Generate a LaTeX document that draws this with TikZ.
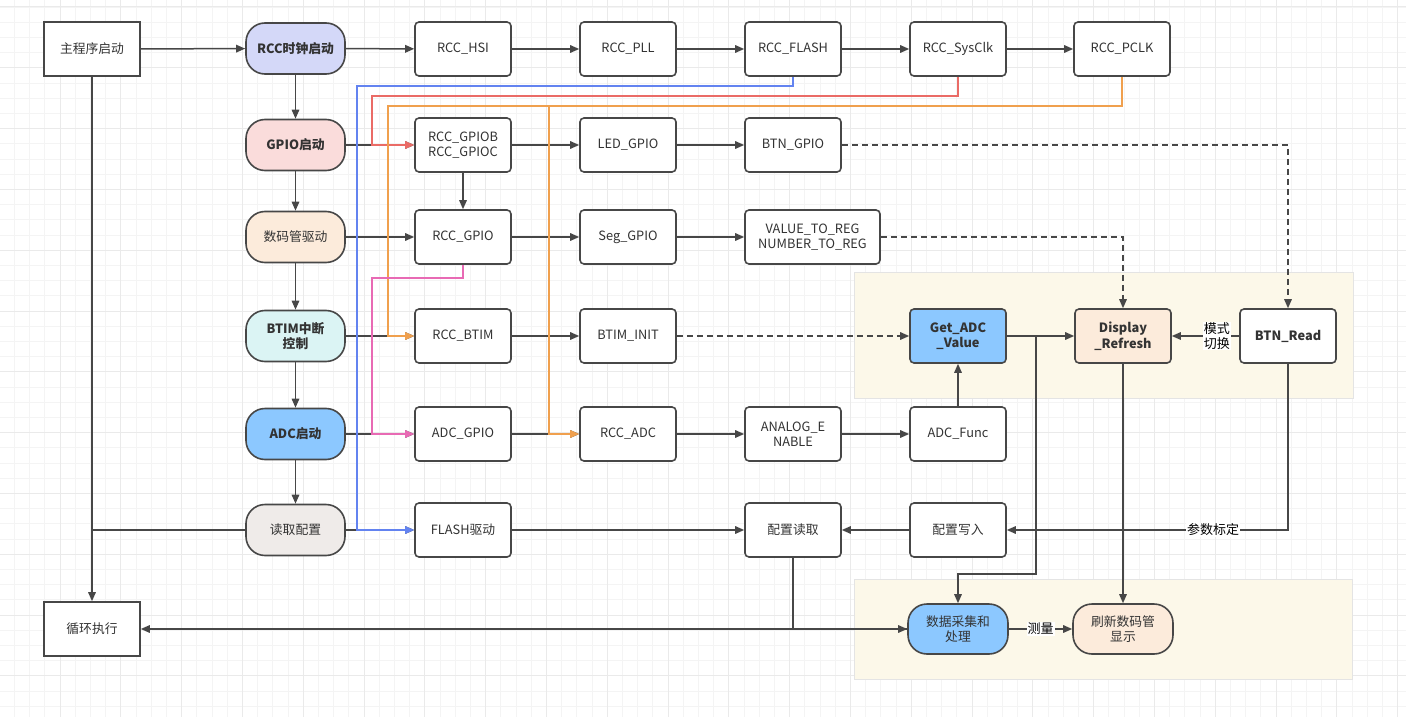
\documentclass[tikz,border=0pt]{standalone}
\usepackage{fontspec}
\setmainfont{Noto Sans CJK SC}
\usetikzlibrary{arrows.meta}
\definecolor{linec}{HTML}{474747}
\definecolor{textc}{HTML}{333333}
\definecolor{gridminor}{HTML}{F4F4F4}
\definecolor{gridmajor}{HTML}{EAEAEA}
\definecolor{panelfill}{HTML}{FCF8E9}
\definecolor{panelline}{HTML}{E4E4E4}
\definecolor{lav}{HTML}{D4D8F8}
\definecolor{rosefill}{HTML}{FADCDB}
\definecolor{peach}{HTML}{FCEBDB}
\definecolor{cyanfill}{HTML}{DBF4F4}
\definecolor{bluefill}{HTML}{8CC8FF}
\definecolor{grayfill}{HTML}{EFEBE9}
\definecolor{blueline}{HTML}{6383F0}
\definecolor{redline}{HTML}{EA6B66}
\definecolor{orangeline}{HTML}{F0A04E}
\definecolor{pinkline}{HTML}{E86AB4}
\begin{document}
\begin{tikzpicture}[x=1pt,y=-1pt,
  box/.style={draw=linec, line width=1.6pt, rounded corners=4pt, minimum width=96pt, minimum height=54pt,
    fill=white, text=textc, font=\fontsize{12.8}{15.5}\selectfont, align=center, inner sep=2pt},
  sqbox/.style={box, rounded corners=0pt},
  pill/.style={box, rounded corners=19pt, minimum width=99pt, minimum height=51pt},
  bf/.style={font=\fontsize{12.8}{15.5}\selectfont\bfseries},
  conn/.style={draw=linec, line width=1.5pt, -{Triangle[length=9pt,width=7.5pt]}},
  link/.style={draw=linec, line width=1.5pt},
  dconn/.style={conn, dash pattern=on 6pt off 4pt},
  colconn/.style={line width=1.5pt, -{Triangle[length=9pt,width=7.5pt]}},
  lbl/.style={fill=white, inner sep=1pt, text=black, font=\fontsize{13}{14.5}\selectfont, align=center},
  panel/.style={fill=panelfill, draw=panelline, line width=1pt}
]
\useasboundingbox (0,0) rectangle (1406,717);
\fill[white] (0,0) rectangle (1406,717);
% grid
\foreach \i in {0,...,93} {\draw[gridminor, line width=0.8pt] ({-0.8+15.2*\i},0) -- ++(0,717);}
\foreach \i in {0,...,47} {\draw[gridminor, line width=0.8pt] (0,{7+15.2*\i}) -- ++(1406,0);}
\foreach \i in {0,...,23} {\draw[gridmajor, line width=1pt] ({-0.8+60.8*\i},0) -- ++(0,717);}
\foreach \i in {0,...,11} {\draw[gridmajor, line width=1pt] (0,{7+60.8*\i}) -- ++(1406,0);}
% panels
\draw[panel] (854,272) rectangle (1353,398);
\draw[panel] (854,579) rectangle (1352,679);

% nodes
\node[sqbox] (main) at (92,49) {主程序启动};
\node[sqbox] (loop) at (92,629) {循环执行};

\node[pill, bf, fill=lav] (rcc) at (295.5,48.5) {RCC时钟启动};
\node[pill, bf, fill=rosefill] (gpio) at (295.5,145) {GPIO启动};
\node[pill, fill=peach] (seg) at (295.5,237) {数码管驱动};
\node[pill, bf, fill=cyanfill] (btim) at (295.5,336) {BTIM中断\\控制};
\node[pill, bf, fill=bluefill] (adc) at (295.5,434) {ADC启动};
\node[pill, fill=grayfill] (rd) at (295.5,530) {读取配置};

\node[box] (hsi) at (463,49) {RCC\_HSI};
\node[box] (gpiob) at (463,145) {RCC\_GPIOB\\RCC\_GPIOC};
\node[box] (rccgpio) at (463,237) {RCC\_GPIO};
\node[box] (rccbtim) at (463,336) {RCC\_BTIM};
\node[box] (adcgpio) at (463,434) {ADC\_GPIO};
\node[box] (flash) at (463,530) {FLASH驱动};

\node[box] (pll) at (628,49) {RCC\_PLL};
\node[box] (led) at (628,145) {LED\_GPIO};
\node[box] (seggpio) at (628,237) {Seg\_GPIO};
\node[box] (btiminit) at (628,336) {BTIM\_INIT};
\node[box] (rccadc) at (628,434) {RCC\_ADC};

\node[box] (rccflash) at (793,49) {RCC\_FLASH};
\node[box] (btngpio) at (793,145) {BTN\_GPIO};
\node[box, minimum width=135pt] (valreg) at (812.5,237) {VALUE\_TO\_REG\\NUMBER\_TO\_REG};
\node[box] (analog) at (793,434) {ANALOG\_E\\NABLE};
\node[box] (cfgread) at (793,530) {配置读取};

\node[box] (sysclk) at (958,49) {RCC\_SysClk};
\node[box, bf, fill=bluefill] (getadc) at (958,336) {Get\_ADC\\\_Value};
\node[box] (adcfunc) at (958,434) {ADC\_Func};
\node[box] (cfgwrite) at (958,530) {配置写入};
\node[pill, fill=bluefill, minimum width=100pt, minimum height=50pt] (proc) at (958,629) {数据采集和\\处理};

\node[box] (pclk) at (1122,49) {RCC\_PCLK};
\node[box, bf, fill=peach] (disp) at (1123,336) {Display\\\_Refresh};
\node[pill, fill=peach, minimum width=100pt, minimum height=50pt] (refresh) at (1123,629) {刷新数码管\\显示};

\node[box, bf] (btnread) at (1288,336) {BTN\_Read};

% coordinates for routed connectors
\coordinate (b1) at (793,86);
\coordinate (b2) at (357,86);
\coordinate (b3) at (357,530);
\coordinate (r1) at (958,96);
\coordinate (r2) at (372,96);
\coordinate (r3) at (372,145);
\coordinate (o1) at (1122,106);
\coordinate (o2) at (388,106);
\coordinate (o3) at (388,336);
\coordinate (o4) at (549,106);
\coordinate (o5) at (549,434);
\coordinate (p1) at (463,278);
\coordinate (p2) at (372,278);
\coordinate (p3) at (372,434);
\coordinate (g1) at (1036,336);
\coordinate (g2) at (1036,574);

% main chain
\draw[conn] (main) -- (rcc);
\draw[conn] (rcc) -- (hsi);
\draw[conn] (hsi) -- (pll);
\draw[conn] (pll) -- (rccflash);
\draw[conn] (rccflash) -- (sysclk);
\draw[conn] (sysclk) -- (pclk);
\draw[conn] (rcc) -- (gpio);
\draw[conn] (gpio) -- (seg);
\draw[conn] (seg) -- (btim);
\draw[conn] (btim) -- (adc);
\draw[conn] (adc) -- (rd);
\draw[conn] (main) -- (loop);
\draw[link] (rd.west) -- (main.south |- rd.west);

\draw[conn] (gpio) -- (gpiob);
\draw[conn] (gpiob) -- (led);
\draw[conn] (led) -- (btngpio);
\draw[conn] (gpiob) -- (rccgpio);
\draw[conn] (seg) -- (rccgpio);
\draw[conn] (rccgpio) -- (seggpio);
\draw[conn] (seggpio) -- (valreg);
\draw[conn] (btim) -- (rccbtim);
\draw[conn] (rccbtim) -- (btiminit);
\draw[conn] (adc) -- (adcgpio);
\draw[conn] (adcgpio) -- (rccadc);
\draw[conn] (rccadc) -- (analog);
\draw[conn] (analog) -- (adcfunc);
\draw[conn] (adcfunc) -- (getadc);
\draw[conn] (rd) -- (flash);
\draw[conn] (flash) -- (cfgread);
\draw[conn] (cfgwrite) -- (cfgread);

\draw[dconn] (btiminit) -- (getadc);
\draw[dconn] (valreg.east) -| (disp.north);
\draw[dconn] (btngpio.east) -| (btnread.north);

\draw[conn] (getadc) -- (disp);
\draw[conn] (getadc.east) -- (g1) -- (g2) -| (proc.north);
\draw[conn] (btnread) -- node[lbl, pos=0.33] {模式\\切换} (disp);
\draw[conn] (disp) -- (refresh);
\draw[conn] (btnread.south) |- node[lbl, pos=0.633] {参数标定} (cfgwrite.east);
\draw[conn] (cfgread.south) |- (proc.west);
\draw[conn] (proc.west) -- (loop.east);
\draw[conn] (proc) -- node[lbl] {测量} (refresh);

% coloured connectors
\draw[colconn, draw=blueline, -{Triangle[length=9pt,width=7.5pt,fill=blueline]}] (rccflash.south) -- (b1) -- (b2) -- (b3) -- (flash.west);
\draw[colconn, draw=redline, -{Triangle[length=9pt,width=7.5pt,fill=redline]}] (sysclk.south) -- (r1) -- (r2) -- (r3) -- (gpiob.west);
\draw[colconn, draw=orangeline, -{Triangle[length=9pt,width=7.5pt,fill=orangeline]}] (pclk.south) -- (o1) -- (o2) -- (o3) -- (rccbtim.west);
\draw[colconn, draw=orangeline, -{Triangle[length=9pt,width=7.5pt,fill=orangeline]}] (o4) -- (o5) -- (rccadc.west);
\draw[colconn, draw=pinkline, -{Triangle[length=9pt,width=7.5pt,fill=pinkline]}] (rccgpio.south) -- (p1) -- (p2) -- (p3) -- (adcgpio.west);
\end{tikzpicture}
\end{document}
